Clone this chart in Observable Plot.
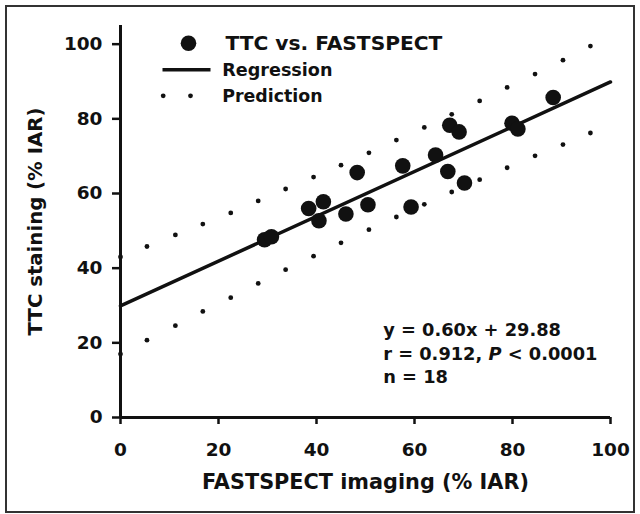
<!DOCTYPE html>
<html><head><meta charset="utf-8">
<script src="https://cdn.jsdelivr.net/npm/d3@7"></script>
<script src="https://cdn.jsdelivr.net/npm/@observablehq/plot@0.6"></script>
<style>
html,body{margin:0;padding:0;background:#fff;}
#wrap{position:relative;width:640px;height:514px;overflow:hidden;}
#border{position:absolute;left:5px;top:5px;width:630px;height:508px;border:2px solid #333;box-sizing:border-box;pointer-events:none;}
</style></head><body>
<div id="wrap"><div id="chart"></div><div id="border"></div></div>
<script>
// Data
const fastspect = [29.4, 30.8, 38.4, 40.5, 41.4, 46.0, 48.3, 50.5, 57.6, 59.3, 64.3, 66.8, 67.2, 69.1, 70.2, 79.9, 81.1, 88.3];
const ttc       = [47.6, 48.4, 56.0, 52.7, 57.8, 54.5, 65.6, 57.0, 67.4, 56.4, 70.3, 65.9, 78.3, 76.5, 62.8, 78.8, 77.3, 85.7];
const predX     = [0, 5.4, 11.2, 16.8, 22.5, 28.1, 33.7, 39.4, 45.0, 50.7, 56.3, 62.0, 67.6, 73.3, 78.9, 84.6, 90.3, 95.9];
const predUpper = [43.0, 45.8, 48.9, 51.8, 54.8, 58.0, 61.2, 64.4, 67.6, 70.9, 74.3, 77.7, 81.2, 84.8, 88.4, 92.0, 95.7, 99.5];
const predLower = [17.0, 20.7, 24.6, 28.4, 32.1, 35.9, 39.6, 43.2, 46.8, 50.3, 53.7, 57.1, 60.4, 63.7, 66.9, 70.1, 73.1, 76.2];
const regX = [0, 100];
const regY = [29.88, 89.88];
const xTicks = [0, 20, 40, 60, 80, 100];
const yTicks = [0, 20, 40, 60, 80, 100];
const xLabel = "FASTSPECT imaging (% IAR)";
const yLabel = "TTC staining (% IAR)";
const legendLabels = ["TTC vs. FASTSPECT", "Regression", "Prediction"];
const annotLines = ["y = 0.60x + 29.88", "r = 0.912, P < 0.0001", "n = 18"];

const ink = "#111";
const font = "'DejaVu Sans', 'Liberation Sans', Arial, sans-serif";
const points = fastspect.map((x, i) => ({x, y: ttc[i]}));
const upper = predX.map((x, i) => ({x, y: predUpper[i]}));
const lower = predX.map((x, i) => ({x, y: predLower[i]}));
const reg = regX.map((x, i) => ({x, y: regY[i]}));
const lineSymbol = {draw(ctx) { ctx.moveTo(-24, 0); ctx.lineTo(24, 0); }};

const chart = Plot.plot({
  width: 640, height: 514,
  marginLeft: 120, marginRight: 30, marginTop: 25, marginBottom: 97,
  x: {domain: [0, 100]},
  y: {domain: [0, 105]},
  style: {fontFamily: font, fontWeight: "bold", fontSize: "18px", color: ink, background: "transparent"},
  marks: [
    Plot.axisX({ticks: xTicks, tickSize: 7, tickPadding: 18, label: null, strokeWidth: 2.5, fontSize: 18.5, fontWeight: "bold"}),
    Plot.axisY({ticks: yTicks, tickSize: 8, tickPadding: 10, label: null, strokeWidth: 2.5, fontSize: 18.5, fontWeight: "bold"}),
    Plot.ruleX([0], {y1: 0, y2: 105, stroke: ink, strokeWidth: 3}),
    Plot.ruleY([0], {x1: 0, x2: 100, stroke: ink, strokeWidth: 3}),
    Plot.dot(upper, {x: "x", y: "y", r: 2.4, fill: ink}),
    Plot.dot(lower, {x: "x", y: "y", r: 2.4, fill: ink}),
    Plot.line(reg, {x: "x", y: "y", stroke: ink, strokeWidth: 3.5}),
    Plot.dot(points, {x: "x", y: "y", r: 7.8, fill: ink}),
    Plot.text([xLabel], {frameAnchor: "bottom", dy: 65, textAnchor: "middle", lineAnchor: "middle", fontSize: 20.8, fontWeight: "bold", fill: ink}),
    Plot.text([yLabel], {frameAnchor: "left", dx: -85, rotate: -90, textAnchor: "middle", lineAnchor: "middle", fontSize: 19.7, fontWeight: "bold", fill: ink}),
    // legend
    Plot.dot([0], {frameAnchor: "top-left", dx: 68, dy: 17.7, r: 7.8, fill: ink}),
    Plot.dot([0], {frameAnchor: "top-left", dx: 66, dy: 44.3, symbol: lineSymbol, r: 5, stroke: ink, strokeWidth: 3.5, fill: "none"}),
    Plot.dot([0], {frameAnchor: "top-left", dx: 42.7, dy: 70.3, r: 2.4, fill: ink}),
    Plot.dot([0], {frameAnchor: "top-left", dx: 70, dy: 70.3, r: 2.4, fill: ink}),
    Plot.text([legendLabels[0]], {frameAnchor: "top-left", dx: 105, dy: 18.3, textAnchor: "start", lineAnchor: "middle", fontSize: 20.2, fontWeight: "bold", fill: ink}),
    Plot.text([legendLabels[1]], {frameAnchor: "top-left", dx: 101.7, dy: 45.3, textAnchor: "start", lineAnchor: "middle", fontSize: 17.6, fontWeight: "bold", fill: ink}),
    Plot.text([legendLabels[2]], {frameAnchor: "top-left", dx: 101.7, dy: 70.8, textAnchor: "start", lineAnchor: "middle", fontSize: 17.4, fontWeight: "bold", fill: ink}),
    // annotation
    ...annotLines.map((t, i) => Plot.text([t], {frameAnchor: "top-left", dx: 262.7, dy: 305 + i * 23.5, textAnchor: "start", lineAnchor: "middle", fontSize: 17.8, fontWeight: "bold", fill: ink}))
  ]
});

// italic P in the statistics line
d3.select(chart).selectAll("text").filter(function() { return this.textContent === annotLines[1]; }).each(function() {
  const t = d3.select(this);
  t.text(null);
  t.append("tspan").text("r = 0.912, ");
  t.append("tspan").attr("font-style", "italic").text("P");
  t.append("tspan").text(" < 0.0001");
});

document.getElementById("chart").appendChild(chart);
</script>
</body></html>
